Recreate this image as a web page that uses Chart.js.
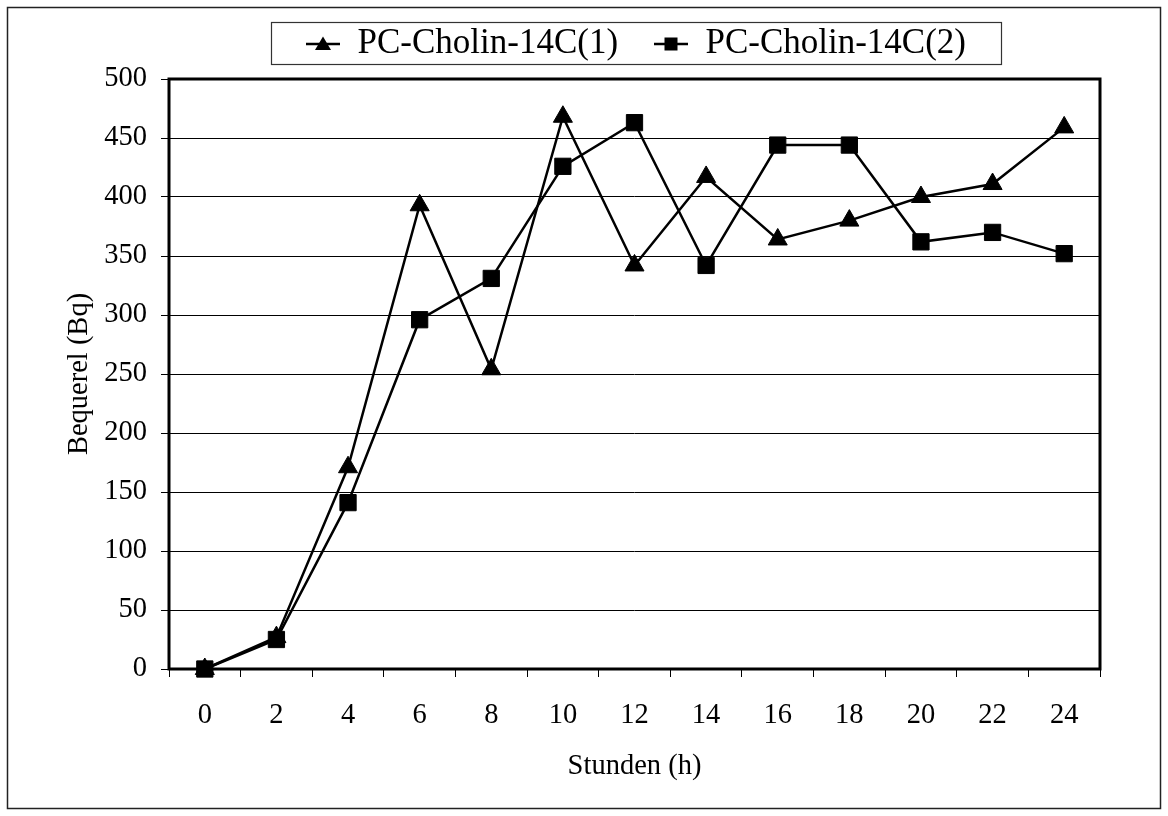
<!DOCTYPE html>
<html>
<head>
<meta charset="utf-8">
<script src="https://cdn.jsdelivr.net/npm/chart.js@4"></script>
<style>
  html, body { margin: 0; padding: 0; background: #fff; }
</style>
</head>
<body>
<canvas id="myChart" width="1168" height="816"></canvas>
<script>
// data
const stunden = ['0', '2', '4', '6', '8', '10', '12', '14', '16', '18', '20', '22', '24'];
const cholin1 = [0, 27, 171, 393, 254, 468, 342, 417, 364, 380, 400, 411, 459];
const cholin2 = [0, 25, 141, 296, 331, 426, 463, 342, 444, 444, 362, 370, 352];
const yMin = 0;
const yMax = 500;
const yStep = 50;

Chart.defaults.font.family = "'Liberation Serif', 'Times New Roman', serif";
Chart.defaults.font.size = 28.5;
Chart.defaults.color = '#000';

// little "line with marker" pictures for the legend
function legendIcon(style) {
    const c = document.createElement('canvas');
    c.width = 66;
    c.height = 20;
    const g = c.getContext('2d');
    g.strokeStyle = '#000';
    g.fillStyle = '#000';
    g.lineWidth = 2.5;
    g.beginPath();
    g.moveTo(32, 10);
    g.lineTo(66, 10);
    g.stroke();
    if (style === 'triangle') {
        g.beginPath();
        g.moveTo(49, 2.5);
        g.lineTo(57, 16);
        g.lineTo(41, 16);
        g.closePath();
        g.fill();
    } else {
        g.fillRect(42.5, 3.5, 13, 13);
    }
    return c;
}
const icons = [legendIcon('triangle'), legendIcon('rect')];

const frames = {
    id: 'frames',
    beforeInit(chart) {
        const fit = chart.legend.fit;
        chart.legend.fit = function () {
            fit.call(this);
            this.height += 7.5;
        };
    },
    afterLayout(chart) {
        // nudge the legend row a bit to the left, like the original
        chart.legend.left -= 29;
    },
    beforeDatasetsDraw(chart) {
        const {ctx, chartArea: a} = chart;
        ctx.save();
        ctx.strokeStyle = '#000';
        ctx.lineWidth = 3;
        ctx.strokeRect(a.left, a.top, a.right - a.left, a.bottom - a.top);
        ctx.restore();
    },
    afterDraw(chart) {
        const ctx = chart.ctx;
        ctx.save();
        ctx.strokeStyle = '#222';
        ctx.lineWidth = 1.5;
        ctx.strokeRect(7.5, 7.5, 1153, 801);
        const hb = chart.legend.legendHitBoxes;
        if (hb && hb.length) {
            const first = hb[0], last = hb[hb.length - 1];
            const cy = first.top + first.height / 2;
            const left = first.left + 32 - 35;
            const right = last.left + last.width + 35;
            ctx.strokeStyle = '#333';
            ctx.lineWidth = 1.2;
            ctx.strokeRect(Math.round(left) + 0.5, Math.round(cy - 22) + 0.5, Math.round(right - left), 42);
        }
        ctx.restore();
    }
};

const ctx = document.getElementById('myChart');

new Chart(ctx, {
    type: 'line',
    data: {
        labels: stunden,
        datasets: [{
            label: 'PC-Cholin-14C(1)',
            data: cholin1,
            borderColor: '#000',
            backgroundColor: '#000',
            borderWidth: 2.5,
            pointStyle: 'triangle',
            pointRadius: 11,
            pointBorderWidth: 1,
            tension: 0,
            clip: false
        }, {
            label: 'PC-Cholin-14C(2)',
            data: cholin2,
            borderColor: '#000',
            backgroundColor: '#000',
            borderWidth: 2.5,
            pointStyle: 'rect',
            pointRadius: 11.5,
            pointBorderWidth: 1,
            tension: 0,
            clip: false
        }]
    },
    options: {
        responsive: false,
        animation: false,
        layout: {
            padding: {top: 22.6, left: 20, right: 68, bottom: 20}
        },
        scales: {
            x: {
                offset: true,
                grid: {
                    offset: true,
                    drawOnChartArea: false,
                    color: '#000',
                    tickLength: 8
                },
                border: {display: false},
                ticks: {padding: 21, maxRotation: 0, autoSkip: false},
                title: {
                    display: true,
                    text: 'Stunden (h)',
                    padding: {top: 0, bottom: 12}
                },
                afterFit(scale) {
                    scale.height = 127;
                }
            },
            y: {
                min: yMin,
                max: yMax,
                ticks: {stepSize: yStep, padding: 14},
                grid: {color: '#000', lineWidth: 1, tickLength: 8},
                border: {display: false},
                title: {
                    display: true,
                    text: 'Bequerel (Bq)',
                    padding: {top: 42, bottom: 0}
                },
                afterFit(scale) {
                    scale.width = 149;
                }
            }
        },
        plugins: {
            legend: {
                position: 'top',
                fullSize: false,
                labels: {
                    usePointStyle: true,
                    pointStyleWidth: 66,
                    padding: 3.9,
                    color: '#000',
                    font: {size: 35},
                    generateLabels(chart) {
                        const items = Chart.defaults.plugins.legend.labels.generateLabels(chart);
                        items.forEach((it, i) => { it.pointStyle = icons[i]; });
                        return items;
                    }
                }
            },
            tooltip: {enabled: false}
        }
    },
    plugins: [frames]
});
</script>
</body>
</html>
